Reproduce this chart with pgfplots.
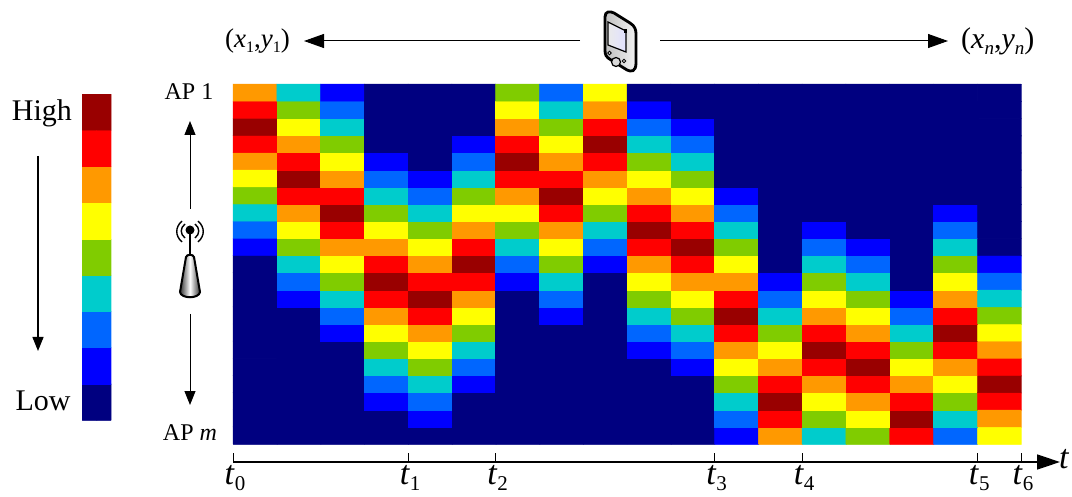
\documentclass[border=0pt]{standalone}
\usepackage{fontspec}
\setmainfont{Liberation Serif}
\usepackage{pgfplots}
\usepackage{pgfplotstable}
\pgfplotsset{compat=1.18}
\usetikzlibrary{arrows.meta,shadings}
\pgfplotsset{
  colormap={hm}{rgb255=(0,0,128); rgb255=(0,0,255); rgb255=(0,102,255); rgb255=(0,204,204); rgb255=(128,204,0); rgb255=(255,255,0); rgb255=(255,153,0); rgb255=(255,0,0); rgb255=(153,0,0)},
}
\newcommand{\sz}[1]{\fontsize{#1}{#1}\selectfont}
\newcommand{\tl}[1]{\sz{34}\textit{t}\raisebox{-0.18em}{\sz{21}#1}}
\pgfplotstableread[row sep=\\,header=false]{
0 0 0\\1 0 0\\2 0 0\\3 0 0\\4 0 0\\5 0 0\\6 0 0\\7 0 0\\8 0 0\\9 0 0\\10 0 0\\11 0 1\\12 0 6\\13 0 3\\14 0 4\\15 0 7\\16 0 2\\17 0 5\\
0 1 0\\1 1 0\\2 1 0\\3 1 0\\4 1 1\\5 1 0\\6 1 0\\7 1 0\\8 1 0\\9 1 0\\10 1 0\\11 1 2\\12 1 7\\13 1 4\\14 1 5\\15 1 8\\16 1 3\\17 1 6\\
0 2 0\\1 2 0\\2 2 0\\3 2 1\\4 2 2\\5 2 0\\6 2 0\\7 2 0\\8 2 0\\9 2 0\\10 2 0\\11 2 3\\12 2 8\\13 2 5\\14 2 6\\15 2 7\\16 2 4\\17 2 7\\
0 3 0\\1 3 0\\2 3 0\\3 3 2\\4 3 3\\5 3 1\\6 3 0\\7 3 0\\8 3 0\\9 3 0\\10 3 0\\11 3 4\\12 3 7\\13 3 6\\14 3 7\\15 3 6\\16 3 5\\17 3 8\\
0 4 0\\1 4 0\\2 4 0\\3 4 3\\4 4 4\\5 4 2\\6 4 0\\7 4 0\\8 4 0\\9 4 0\\10 4 1\\11 4 5\\12 4 6\\13 4 7\\14 4 8\\15 4 5\\16 4 6\\17 4 7\\
0 5 0\\1 5 0\\2 5 0\\3 5 4\\4 5 5\\5 5 3\\6 5 0\\7 5 0\\8 5 0\\9 5 1\\10 5 2\\11 5 6\\12 5 5\\13 5 8\\14 5 7\\15 5 4\\16 5 7\\17 5 6\\
0 6 0\\1 6 0\\2 6 1\\3 6 5\\4 6 6\\5 6 4\\6 6 0\\7 6 0\\8 6 0\\9 6 2\\10 6 3\\11 6 7\\12 6 4\\13 6 7\\14 6 6\\15 6 3\\16 6 8\\17 6 5\\
0 7 0\\1 7 0\\2 7 2\\3 7 6\\4 7 7\\5 7 5\\6 7 0\\7 7 1\\8 7 0\\9 7 3\\10 7 4\\11 7 8\\12 7 3\\13 7 6\\14 7 5\\15 7 2\\16 7 7\\17 7 4\\
0 8 0\\1 8 1\\2 8 3\\3 8 7\\4 8 8\\5 8 6\\6 8 0\\7 8 2\\8 8 0\\9 8 4\\10 8 5\\11 8 7\\12 8 2\\13 8 5\\14 8 4\\15 8 1\\16 8 6\\17 8 3\\
0 9 0\\1 9 2\\2 9 4\\3 9 8\\4 9 7\\5 9 7\\6 9 1\\7 9 3\\8 9 0\\9 9 5\\10 9 6\\11 9 6\\12 9 1\\13 9 4\\14 9 3\\15 9 0\\16 9 5\\17 9 2\\
0 10 0\\1 10 3\\2 10 5\\3 10 7\\4 10 6\\5 10 8\\6 10 2\\7 10 4\\8 10 1\\9 10 6\\10 10 7\\11 10 5\\12 10 0\\13 10 3\\14 10 2\\15 10 0\\16 10 4\\17 10 1\\
0 11 1\\1 11 4\\2 11 6\\3 11 6\\4 11 5\\5 11 7\\6 11 3\\7 11 5\\8 11 2\\9 11 7\\10 11 8\\11 11 4\\12 11 0\\13 11 2\\14 11 1\\15 11 0\\16 11 3\\17 11 0\\
0 12 2\\1 12 5\\2 12 7\\3 12 5\\4 12 4\\5 12 6\\6 12 4\\7 12 6\\8 12 3\\9 12 8\\10 12 7\\11 12 3\\12 12 0\\13 12 1\\14 12 0\\15 12 0\\16 12 2\\17 12 0\\
0 13 3\\1 13 6\\2 13 8\\3 13 4\\4 13 3\\5 13 5\\6 13 5\\7 13 7\\8 13 4\\9 13 7\\10 13 6\\11 13 2\\12 13 0\\13 13 0\\14 13 0\\15 13 0\\16 13 1\\17 13 0\\
0 14 4\\1 14 7\\2 14 7\\3 14 3\\4 14 2\\5 14 4\\6 14 6\\7 14 8\\8 14 5\\9 14 6\\10 14 5\\11 14 1\\12 14 0\\13 14 0\\14 14 0\\15 14 0\\16 14 0\\17 14 0\\
0 15 5\\1 15 8\\2 15 6\\3 15 2\\4 15 1\\5 15 3\\6 15 7\\7 15 7\\8 15 6\\9 15 5\\10 15 4\\11 15 0\\12 15 0\\13 15 0\\14 15 0\\15 15 0\\16 15 0\\17 15 0\\
0 16 6\\1 16 7\\2 16 5\\3 16 1\\4 16 0\\5 16 2\\6 16 8\\7 16 6\\8 16 7\\9 16 4\\10 16 3\\11 16 0\\12 16 0\\13 16 0\\14 16 0\\15 16 0\\16 16 0\\17 16 0\\
0 17 7\\1 17 6\\2 17 4\\3 17 0\\4 17 0\\5 17 1\\6 17 7\\7 17 5\\8 17 8\\9 17 3\\10 17 2\\11 17 0\\12 17 0\\13 17 0\\14 17 0\\15 17 0\\16 17 0\\17 17 0\\
0 18 8\\1 18 5\\2 18 3\\3 18 0\\4 18 0\\5 18 0\\6 18 6\\7 18 4\\8 18 7\\9 18 2\\10 18 1\\11 18 0\\12 18 0\\13 18 0\\14 18 0\\15 18 0\\16 18 0\\17 18 0\\
0 19 7\\1 19 4\\2 19 2\\3 19 0\\4 19 0\\5 19 0\\6 19 5\\7 19 3\\8 19 6\\9 19 1\\10 19 0\\11 19 0\\12 19 0\\13 19 0\\14 19 0\\15 19 0\\16 19 0\\17 19 0\\
0 20 6\\1 20 3\\2 20 1\\3 20 0\\4 20 0\\5 20 0\\6 20 4\\7 20 2\\8 20 5\\9 20 0\\10 20 0\\11 20 0\\12 20 0\\13 20 0\\14 20 0\\15 20 0\\16 20 0\\17 20 0\\
}\hmdata
\pgfplotstableread[row sep=\\,header=false]{
0 0 0\\1 0 0\\0 1 1\\1 1 1\\0 2 2\\1 2 2\\0 3 3\\1 3 3\\0 4 4\\1 4 4\\0 5 5\\1 5 5\\0 6 6\\1 6 6\\0 7 7\\1 7 7\\0 8 8\\1 8 8\\
}\keydata
\begin{document}
\begin{tikzpicture}
\path[use as bounding box] (0pt,0pt) rectangle (1072pt,-497pt);
% main heat map with time axis
\begin{axis}[
  at={(233pt,-462pt)}, anchor=south west, scale only axis,
  width=827pt, height=378pt,
  xmin=-0.5, xmax=18.39, ymin=-1.55, ymax=20.5,
  axis y line=none, axis x line=bottom,
  axis line style={line width=1.4pt, -{Triangle[length=23pt,width=15pt]}},
  xtick={-0.5,3.5,5.5,10.5,12.5,16.5,17.5},
  xticklabels={\tl{0},\tl{1},\tl{2},\tl{3},\tl{4},\tl{5},\tl{6}},
  tick align=inside, major tick length=9pt,
  xtick style={line width=1pt,black},
  xticklabel style={inner sep=0pt, yshift=-3pt, xshift=2pt},
  xlabel={\sz{34}\textit{t}},
  xlabel style={at={(axis description cs:1,0)}, anchor=west, inner sep=0pt, xshift=-1pt, yshift=3pt},
  colormap name=hm, colormap access=direct,
  clip=false,
]
% same cells twice, the lower layer nudged by half a pixel, so no seams show between cells
\addplot[matrix plot*, mesh/cols=18, point meta=explicit] table[x expr=\thisrowno{0}+0.01, y expr=\thisrowno{1}-0.025, meta index=2]{\hmdata};
\addplot[matrix plot*, mesh/cols=18, point meta=explicit] table[x index=0, y index=1, meta index=2]{\hmdata};
\end{axis}
% colour key
\begin{axis}[
  at={(82pt,-420pt)}, anchor=south west, scale only axis,
  width=29pt, height=326pt,
  xmin=-0.5, xmax=1.5, ymin=-0.5, ymax=8.5,
  hide axis, colormap name=hm, colormap access=direct,
]
\addplot[matrix plot*, mesh/cols=2, point meta=explicit] table[x expr=\thisrowno{0}+0.03, y expr=\thisrowno{1}-0.01, meta index=2]{\keydata};
\addplot[matrix plot*, mesh/cols=2, point meta=explicit] table[x index=0, y index=1, meta index=2]{\keydata};
\end{axis}
\begin{scope}[x=1pt,y=-1pt]
\tikzset{arr/.style={line width=1.2pt,-{Triangle[length=14pt,width=11pt]}}}
% key text
\node[inner sep=0pt] at (42,113) {\sz{30}High};
\node[inner sep=0pt] at (43,401) {\sz{30}Low};
\draw[arr] (38,156) -- (38,351);
% AP side
\node[inner sep=0pt] at (189,92) {\sz{24}AP 1};
\node[inner sep=0pt] at (190,433) {\sz{24}AP \textit{m}};
\draw[arr,line width=1pt] (190,209) -- (190,121);
\draw[arr,line width=1pt] (190,314) -- (190,405);
% antenna
\draw[line width=2.6pt] (190,232) -- (190,256);
\fill (190,230) circle (4.5);
\draw[line width=1.4pt] (185,224) .. controls (180,228) and (180,234) .. (185,238);
\draw[line width=1.4pt] (195,224) .. controls (200,228) and (200,234) .. (195,238);
\draw[line width=1.4pt] (182,221) .. controls (175,227) and (175,236) .. (182,242);
\draw[line width=1.4pt] (198,221) .. controls (205,227) and (205,236) .. (198,242);
\shade[left color=black!80,right color=black!80,middle color=white,draw=black,line width=2pt]
  (186,257) -- (180,292) .. controls (181,299) and (199,299) .. (200,292) -- (194,257) .. controls (193,254) and (187,254) .. (186,257) -- cycle;
% top row
\node[inner sep=0pt,anchor=west] at (225,41) {\sz{27}(\textit{x}\raisebox{-0.2em}{\sz{16}1},\textit{y}\raisebox{-0.2em}{\sz{16}1})};
\node[inner sep=0pt,anchor=west] at (961,41) {\sz{30}(\textit{x}\raisebox{-0.2em}{\sz{19}\textit{n}},\textit{y}\raisebox{-0.2em}{\sz{19}\textit{n}})};
\draw[line width=1pt,-{Triangle[length=20pt,width=14pt]}] (580,41) -- (304,41);
\draw[line width=1pt,-{Triangle[length=20pt,width=14pt]}] (660,41) -- (948,41);
% phone
\shade[left color=black!25,right color=black!5,draw=black,line width=2.8pt]
  (605,17) .. controls (605,11) and (610,11) .. (614,13)
  -- (630,23) .. controls (635,26) and (636,30) .. (636,34)
  -- (636,63) .. controls (636,72) and (631,72) .. (627,70)
  -- (611,60) .. controls (606,57) and (605,55) .. (605,50) -- cycle;
\shade[left color=black!8,right color=blue!12,draw=black,line width=1.2pt]
  (608,22) -- (626,31) -- (626,52) -- (608,45) -- cycle;
\fill[black] (624,29) rectangle (627,33);
\draw[line width=1.2pt,fill=black!15] (616,62) circle (4.5);
\draw[line width=.9pt,fill=white] (609.5,53) circle (1.8);
\draw[line width=.9pt,fill=white] (624,61) circle (1.8);
\end{scope}
\end{tikzpicture}
\end{document}
